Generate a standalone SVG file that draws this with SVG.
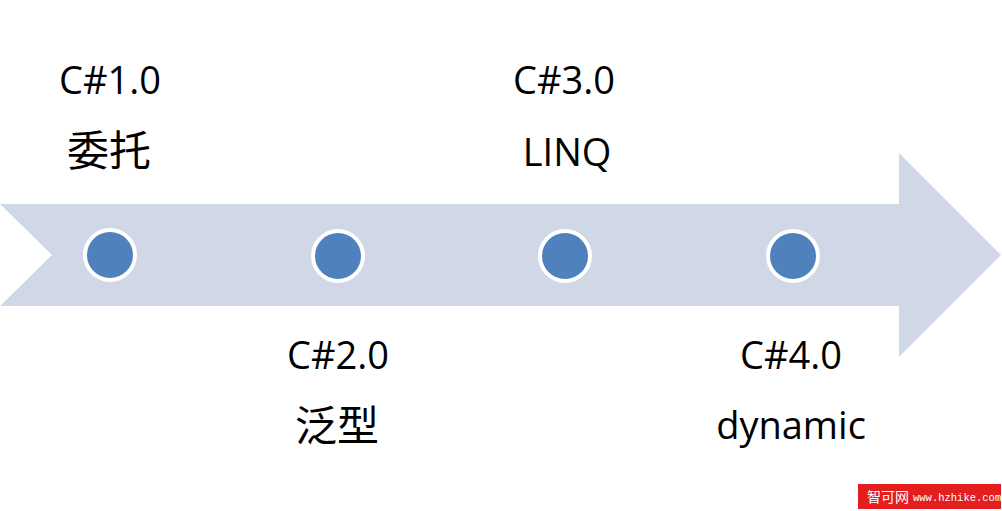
<svg xmlns="http://www.w3.org/2000/svg" width="1002" height="511" viewBox="0 0 1002 511">
<style>
.lbl{font-family:"Open Sans","Liberation Sans","Noto Sans CJK SC",sans-serif;font-size:38px;fill:#000;text-anchor:middle}
.cjk{font-family:"Noto Sans CJK SC",sans-serif;font-size:42px;fill:#000;text-anchor:middle}
.dot{fill:#4F81BD;stroke:#FFFFFF;stroke-width:4}
</style>
<rect width="1002" height="511" fill="#FFFFFF"/>
<g id="connectors">
<polygon id="timeline-arrow" points="0,204 899,204 899,153 1001,255 899,357 899,306 0,306 52,255" fill="#D0D8E8"/>
</g>
<g id="node-c10">
<circle class="dot" cx="110" cy="255" r="25"/>
<text class="lbl" x="110" y="94">C#1.0</text>
<text class="cjk" x="109" y="166">委托</text>
</g>
<g id="node-c20">
<circle class="dot" cx="338" cy="256" r="25"/>
<text class="lbl" x="338" y="369">C#2.0</text>
<text class="cjk" x="337" y="441">泛型</text>
</g>
<g id="node-c30">
<circle class="dot" cx="565" cy="256" r="25"/>
<text class="lbl" x="564" y="94">C#3.0</text>
<text class="lbl" x="567" y="166">LINQ</text>
</g>
<g id="node-c40">
<circle class="dot" cx="793" cy="256" r="25"/>
<text class="lbl" x="791" y="369">C#4.0</text>
<text class="lbl" x="791" y="439">dynamic</text>
</g>
<g id="watermark">
<rect x="858" y="484" width="143" height="25" fill="#E21E1E"/>
<text x="867" y="502" font-family="Noto Sans CJK SC,sans-serif" font-size="14" fill="#FFFFFF">智可网</text>
<text x="913" y="501" font-family="Liberation Mono,monospace" font-size="10.5" fill="#FFFFFF">www.hzhike.com</text>
</g>
</svg>
